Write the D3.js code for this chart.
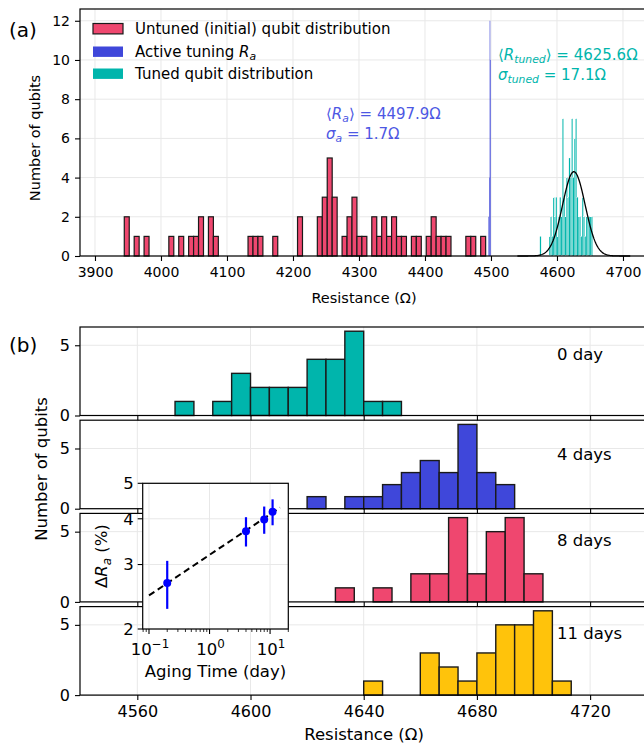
<!DOCTYPE html>
<html><head><meta charset="utf-8">
<script src="https://cdn.jsdelivr.net/npm/d3@7"></script>
<style>body{margin:0;background:#fff} text{font-family:"DejaVu Sans",sans-serif}</style>
</head><body><svg id="c" width="644" height="744"></svg>
<script>
// ---------------- DATA ----------------
// Panel (a)
const untunedStart = 3944.4, untunedWidth = 7.5;
const untunedCounts = [2,0,1,0,1,0,0,0,0,1, 0,1,0,1,1,2,0,2,1,0, 0,0,0,0,0,1,1,1,0,0,
  1,0,0,0,0,2,0,0,0,2, 3,5,3,0,1,2,3,1,1,0, 2,1,2,1,2,1,1,0,1,1, 0,1,2,1,1,1,0,0,0,1, 1,0,1,0];
const activeStarts = [4496.2, 4497.1, 4498.0, 4498.9];
const activeCounts = [2, 4, 12, 10];
const activeWidth = 0.9;
const tunedStart = 4574, tunedWidth = 2;
const tunedCounts = [1,0,0,0,0,0,0,1,2,1, 3,2,3,1,2,3,2,7,3,2, 4,3,5,4,7,4,6,7,3,2, 2,1,3,2,1,2,2,2,2,2];
const fitMean = 4625.6, fitSigma = 17.1, fitPeak = 4.3;
const xTicksA = [3900,4000,4100,4200,4300,4400,4500,4600,4700];
const yTicksA = [0,2,4,6,8,10,12];
const legendLabels = ["Untuned (initial) qubit distribution", "Active tuning ", "Tuned qubit distribution"];

// Panel (b)
const dayLabels = ["0 day", "4 days", "8 days", "11 days"];
const dayBinWidth = 20/3;
const dayBinStarts = [4560, 4600, 4630, 4620];
const dayCounts = [
  [0,0,1,0,1,3,2,2,2,4,4,6,1,1,0],
  [0,0,0,1,0,1,1,2,3,4,3,7,3,2,0],
  [1,0,1,0,2,2,6,2,5,6,2,0],
  [0,0,0,1,0,0,3,2,1,3,5,5,6,1]
];
const dayYMax = [6.3, 7.35, 6.3, 6.3];
const xTicksB = [4560,4600,4640,4680,4720];
const yTicksB = [0,5];

// Inset
const agingT = [0.2, 4, 8, 11];
const deltaR = [2.67, 3.70, 3.98, 4.18];
const deltaErr = [0.40, 0.34, 0.34, 0.34];
const fitT = [0.1, 14.6];
const fitR = [2.47, 4.29];
const insetYTicks = [2,3,4,5];
const insetXTicks = [0.1, 1, 10];
const insetXLabels = ["−1", "0", "1"];

// ---------------- STYLE ----------------
const PINK = "#EF476F", BLUE = "#3F47DA", TEAL = "#00B5AC", YELLOW = "#FFC30B";
const BLUE_TXT = "#4D57E3";
const EDGE = "#1a1a1a";
const GRID = "#e8e8e8";
const dayColors = [TEAL, BLUE, PINK, YELLOW];

const svg = d3.select("#c");
svg.append("rect").attr("width",644).attr("height",744).attr("fill","#fff");

function rich(g, x, y, parts, size, color, anchor) {
  const t = g.append("text").attr("x", x).attr("y", y).attr("font-size", size)
    .attr("fill", color).attr("text-anchor", anchor || "start");
  let cur = 0;
  parts.forEach(p => {
    const ts = t.append("tspan").text(p.t);
    let s = 0, fs = size;
    if (p.sub) { s = size*0.22; fs = size*0.72; }
    if (p.sup) { s = -size*0.42; fs = size*0.72; }
    ts.attr("dy", s - cur).attr("font-size", fs);
    if (p.i) ts.attr("font-style", "italic");
    cur = s;
  });
  return t;
}

// ---------------- PANEL (a) ----------------
const gA = svg.append("g");
const xA = d3.scaleLinear().domain([3877.3, 4760]).range([80, 80 + (4760-3877.3)*0.66]);
const yA = d3.scaleLinear().domain([0, 12.6]).range([256, 9]);

gA.selectAll(".gx").data(xTicksA).join("line")
  .attr("x1", d=>xA(d)).attr("x2", d=>xA(d)).attr("y1", yA(0)).attr("y2", yA(12.6))
  .attr("stroke", GRID).attr("stroke-width", 1);
gA.selectAll(".gy").data(yTicksA).join("line")
  .attr("x1", xA.range()[0]).attr("x2", xA.range()[1]).attr("y1", d=>yA(d)).attr("y2", d=>yA(d))
  .attr("stroke", GRID).attr("stroke-width", 1);

const untuned = untunedCounts.map((c,i)=>({x0: untunedStart + i*untunedWidth, c})).filter(d=>d.c>0);
gA.selectAll(".ub").data(untuned).join("rect")
  .attr("x", d=>xA(d.x0)).attr("width", d=>xA(d.x0+untunedWidth)-xA(d.x0))
  .attr("y", d=>yA(d.c)).attr("height", d=>yA(0)-yA(d.c))
  .attr("fill", PINK).attr("stroke", EDGE).attr("stroke-width", 1.2);

gA.selectAll(".ab").data(activeStarts.map((s,i)=>({x0:s, c:activeCounts[i]}))).join("rect")
  .attr("x", d=>xA(d.x0)).attr("width", d=>xA(d.x0+activeWidth)-xA(d.x0))
  .attr("y", d=>yA(d.c)).attr("height", d=>yA(0)-yA(d.c))
  .attr("fill", BLUE);

const tuned = tunedCounts.map((c,i)=>({x0: tunedStart + i*tunedWidth, c})).filter(d=>d.c>0);
gA.selectAll(".tb").data(tuned).join("rect")
  .attr("x", d=>xA(d.x0)).attr("width", d=>xA(d.x0+tunedWidth)-xA(d.x0))
  .attr("y", d=>yA(d.c)).attr("height", d=>yA(0)-yA(d.c))
  .attr("fill", TEAL).attr("stroke", "#fff").attr("stroke-width", 0.25);

const fitXs = d3.range(4540, 4712, 1);
gA.append("path").datum(fitXs)
  .attr("d", d3.line().x(d=>xA(d)).y(d=>yA(fitPeak*Math.exp(-0.5*((d-fitMean)/fitSigma)**2))))
  .attr("fill","none").attr("stroke","#000").attr("stroke-width",1.3);

gA.append("rect").attr("x", 80).attr("y", 9).attr("width", xA.range()[1]-80).attr("height", 247)
  .attr("fill","none").attr("stroke","#000").attr("stroke-width",1.2);

const axA = gA.append("g").attr("transform","translate(0,256)")
  .call(d3.axisBottom(xA).tickValues(xTicksA).tickFormat(d3.format("d")).tickSize(5).tickPadding(6));
const ayA = gA.append("g").attr("transform","translate(80,0)")
  .call(d3.axisLeft(yA).tickValues(yTicksA).tickFormat(d3.format("d")).tickSize(5).tickPadding(5));
[axA, ayA].forEach(a => { a.select(".domain").remove();
  a.selectAll("text").attr("font-size", 14).attr("font-family","DejaVu Sans").attr("fill","#000");
  a.selectAll("line").attr("stroke","#000").attr("stroke-width",1.1); });

gA.append("text").attr("x", (80+644)/2 + 2).attr("y", 303).attr("text-anchor","middle")
  .attr("font-size", 14.5).text("Resistance (Ω)");
gA.append("text").attr("transform","translate(40,138) rotate(-90)").attr("text-anchor","middle")
  .attr("font-size", 14.5).text("Number of qubits");
gA.append("text").attr("x", 9).attr("y", 37).attr("font-size", 20).text("(a)");

const legY = [28.7, 51.7, 73.7];
const legFill = [PINK, BLUE, TEAL];
legY.forEach((cy,i)=>{
  gA.append("rect").attr("x",93).attr("y",cy-5.2).attr("width",30).attr("height",10.4)
    .attr("fill",legFill[i]).attr("stroke", i===0?EDGE:"none").attr("stroke-width",1.2);
});
rich(gA, 135, 34, [{t:legendLabels[0]}], 15, "#000");
rich(gA, 135, 57, [{t:legendLabels[1]},{t:"R",i:1},{t:"a",i:1,sub:1}], 15, "#000");
rich(gA, 135, 79, [{t:legendLabels[2]}], 15, "#000");

rich(gA, 326, 119, [{t:"⟨"},{t:"R",i:1},{t:"a",i:1,sub:1},{t:"⟩ = 4497.9Ω"}], 15, BLUE_TXT);
rich(gA, 326, 138.5, [{t:"σ",i:1},{t:"a",i:1,sub:1},{t:" = 1.7Ω"}], 15, BLUE_TXT);
rich(gA, 498, 60, [{t:"⟨"},{t:"R",i:1},{t:"tuned",i:1,sub:1},{t:"⟩ = 4625.6Ω"}], 15, TEAL);
rich(gA, 498, 80, [{t:"σ",i:1},{t:"tuned",i:1,sub:1},{t:" = 17.1Ω"}], 15, TEAL);

// ---------------- PANEL (b) ----------------
const gB = svg.append("g");
const xB = d3.scaleLinear().domain([4539.75, 4760]).range([80, 80 + (4760-4539.75)*2.83]);
const subTop0 = 327, subStep = 93.2, subH = 88.5;

dayLabels.forEach((lab, k) => {
  const top = subTop0 + k*subStep, bot = top + subH;
  const y = d3.scaleLinear().domain([0, dayYMax[k]]).range([bot, top]);
  const g = gB.append("g");
  g.selectAll(".gx").data(xTicksB).join("line")
    .attr("x1", d=>xB(d)).attr("x2", d=>xB(d)).attr("y1", bot).attr("y2", top)
    .attr("stroke", GRID).attr("stroke-width", 1);
  g.selectAll(".gy").data(yTicksB).join("line")
    .attr("x1", 80).attr("x2", xB.range()[1]).attr("y1", d=>y(d)).attr("y2", d=>y(d))
    .attr("stroke", GRID).attr("stroke-width", 1);
  const bins = dayCounts[k].map((c,i)=>({x0: dayBinStarts[k] + i*dayBinWidth, c}));
  g.selectAll(".b").data(bins).join("rect")
    .attr("x", d=>xB(d.x0)).attr("width", d=>xB(d.x0+dayBinWidth)-xB(d.x0))
    .attr("y", d=>y(d.c)).attr("height", d=>y(0)-y(d.c))
    .attr("fill", dayColors[k]).attr("stroke", EDGE).attr("stroke-width", 1.4);
  g.append("rect").attr("x",80).attr("y",top).attr("width",xB.range()[1]-80).attr("height",subH)
    .attr("fill","none").attr("stroke","#000").attr("stroke-width",1.2);
  const ax = g.append("g").attr("transform",`translate(0,${bot})`)
    .call(d3.axisBottom(xB).tickValues(xTicksB).tickFormat(k===3?d3.format("d"):()=> "").tickSize(5).tickPadding(6));
  const ay = g.append("g").attr("transform","translate(80,0)")
    .call(d3.axisLeft(y).tickValues(yTicksB).tickFormat(d3.format("d")).tickSize(5).tickPadding(5));
  [ax, ay].forEach(a => { a.select(".domain").remove();
    a.selectAll("text").attr("font-size", 16).attr("font-family","DejaVu Sans").attr("fill","#000");
    a.selectAll("line").attr("stroke","#000").attr("stroke-width",1.1); });
  g.append("text").attr("x", 557).attr("y", [359.5, 460, 546, 639][k]).attr("font-size", 16.5).text(lab);
});

gB.append("text").attr("x", (80+644)/2 + 2).attr("y", 740).attr("text-anchor","middle")
  .attr("font-size", 16.5).text("Resistance (Ω)");
gB.append("text").attr("transform","translate(47,469) rotate(-90)").attr("text-anchor","middle")
  .attr("font-size", 16.5).text("Number of qubits");
gB.append("text").attr("x", 9).attr("y", 352).attr("font-size", 20).text("(b)");

// ---------------- INSET ----------------
const gI = svg.append("g");
const iL = 142.7, iR = 288.3, iT = 483.3, iB = 629;
const xI = d3.scaleLog().domain([0.0787, 20]).range([iL, iR]);
const yI = d3.scaleLog().domain([2, 5]).range([iB, iT]);
gI.append("rect").attr("x",iL).attr("y",iT).attr("width",iR-iL).attr("height",iB-iT).attr("fill","#fff");
gI.selectAll(".gx").data(insetXTicks).join("line")
  .attr("x1", d=>xI(d)).attr("x2", d=>xI(d)).attr("y1", iT).attr("y2", iB).attr("stroke", GRID);
gI.selectAll(".gy").data(insetYTicks).join("line")
  .attr("x1", iL).attr("x2", iR).attr("y1", d=>yI(d)).attr("y2", d=>yI(d)).attr("stroke", GRID);
gI.append("path").datum(fitT.map((t,i)=>[t, fitR[i]]))
  .attr("d", d3.line().x(d=>xI(d[0])).y(d=>yI(d[1])))
  .attr("fill","none").attr("stroke","#000").attr("stroke-width",2).attr("stroke-dasharray","6.5,4");
agingT.forEach((t,i)=>{
  gI.append("line").attr("x1",xI(t)).attr("x2",xI(t))
    .attr("y1", yI(deltaR[i]-deltaErr[i])).attr("y2", yI(deltaR[i]+deltaErr[i]))
    .attr("stroke","#0000ff").attr("stroke-width",2.2);
  gI.append("circle").attr("cx",xI(t)).attr("cy",yI(deltaR[i])).attr("r",4).attr("fill","#0000ff");
});
gI.append("rect").attr("x",iL).attr("y",iT).attr("width",iR-iL).attr("height",iB-iT)
  .attr("fill","none").attr("stroke","#000").attr("stroke-width",1.2);
const minorT = [];
[0.01,0.1,1,10].forEach(dec => { for (let m=2;m<=9;m++) { const v=dec*m; if (v>0.0787 && v<20.01) minorT.push(v);} });
gI.selectAll(".mt").data(minorT).join("line")
  .attr("x1", d=>xI(d)).attr("x2", d=>xI(d)).attr("y1", iB).attr("y2", iB+3).attr("stroke","#000").attr("stroke-width",0.8);
gI.selectAll(".Mt").data(insetXTicks).join("line")
  .attr("x1", d=>xI(d)).attr("x2", d=>xI(d)).attr("y1", iB).attr("y2", iB+5).attr("stroke","#000").attr("stroke-width",1.1);
insetXTicks.forEach((v,i)=>{
  rich(gI, xI(v)+1, 655, [{t:"10"},{t:insetXLabels[i],sup:1}], 16.5, "#000", "middle");
});
gI.selectAll(".yt").data(insetYTicks).join("line")
  .attr("x1", iL-5).attr("x2", iL).attr("y1", d=>yI(d)).attr("y2", d=>yI(d)).attr("stroke","#000").attr("stroke-width",1.1);
gI.selectAll(".ytl").data(insetYTicks).join("text")
  .attr("x", iL-9).attr("y", d=>yI(d)).attr("dy","0.36em").attr("text-anchor","end")
  .attr("font-size",16.5).text(d=>d);
gI.append("text").attr("x", (iL+iR)/2).attr("y", 677).attr("text-anchor","middle")
  .attr("font-size", 16.5).text("Aging Time (day)");
const yl = gI.append("g").attr("transform", `translate(107,${(iT+iB)/2}) rotate(-90)`);
rich(yl, 0, 0, [{t:"Δ"},{t:"R",i:1},{t:"a",i:1,sub:1},{t:" (%)"}], 16.5, "#000", "middle");
</script></body></html>
